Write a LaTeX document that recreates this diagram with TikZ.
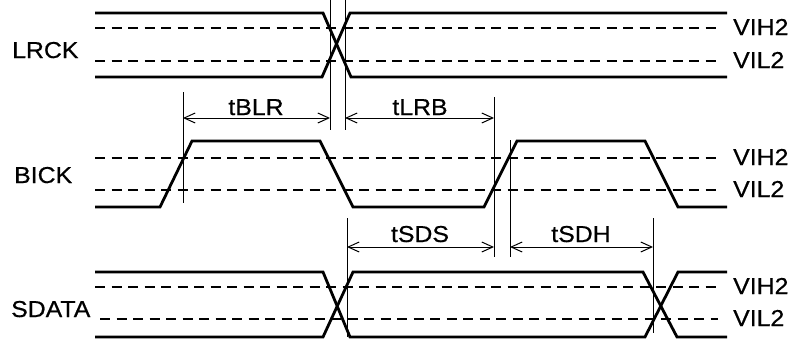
\documentclass[tikz,border=0pt]{standalone}
\usepackage{fontspec}
\setmainfont{Liberation Sans}[FakeStretch=1.08,FakeBold=0.6]
\usetikzlibrary{arrows.meta}

\begin{document}
\begin{tikzpicture}[x=1pt,y=-1pt,
  sig/.style={line width=2.8pt,line join=miter},
  lvl/.style={line width=1.4pt,dash pattern=on 10pt off 6.5pt},
  dim/.style={line width=1pt},
  dimarr/.style={line width=1pt,{Straight Barb[length=11pt,width=10pt]}-{Straight Barb[length=11pt,width=10pt]}},
  lbl/.style={font=\fontsize{23}{25}\selectfont,inner sep=0pt,anchor=base west},
  tlbl/.style={font=\fontsize{23}{25}\selectfont,inner sep=0pt,anchor=base}]
\useasboundingbox (0,0) rectangle (798,340);
% reference points of the timing edges
\path (183,92) coordinate (A1) (183,203) coordinate (A2)
 (330,0) coordinate (C1) (330,130) coordinate (C2)
 (345,0) coordinate (D1) (345,130) coordinate (D2)
 (494,97) coordinate (E1) (494,257) coordinate (E2)
 (510,140) coordinate (F1) (510,257) coordinate (F2)
 (347,218) coordinate (G1) (347,337) coordinate (G2)
 (653,218) coordinate (H1) (653,333) coordinate (H2);
\path (183,118) coordinate (a) (330,118) coordinate (c)
 (345,118) coordinate (d) (494,118) coordinate (e)
 (347,247) coordinate (g) (494,247) coordinate (e2)
 (510,247) coordinate (f) (653,247) coordinate (h);
% LRCK
\draw[sig](95,13)--(323,13)--(351,77)--(727,77);
\draw[sig](95,77)--(322,77)--(350,13)--(727,13);
\draw[lvl](95,28)--(718,28)(95,61)--(718,61);
% BICK
\draw[sig](95,207)--(160,207)--(192,141)--(320,141)--(353,207)--(484,207)
 --(517,141)--(645,141)--(678,207)--(727,207);
\draw[lvl](95,158)--(718,158)(95,190)--(718,190);
% SDATA
\draw[sig](95,272)--(323,272)--(350,337)--(645,337)--(678,272)--(727,272);
\draw[sig](95,337)--(323,337)--(353,272)--(643,272)--(677,337)--(727,337);
\draw[lvl](95,287)--(718,287)(100,319)--(718,319);
% timing lines
\draw[dim](A1)--(A2)(C1)--(C2)(D1)--(D2)(E1)--(E2)(F1)--(F2)(G1)--(G2)(H1)--(H2);
\draw[dimarr](a)--(c);
\draw[dimarr](d)--(e);
\draw[dimarr](g)--(e2);
\draw[dimarr](f)--(h);
% labels
\node[lbl] (lrck) at (12,58) {LRCK};
\node[lbl] (bick) at (14,183) {BICK};
\node[lbl] (sdata) at (11,317) {SDATA};
\foreach \y/\n in {35/1,165/2,294/3}{\node[lbl] (vih\n) at (733,\y) {VIH2};}
\foreach \y/\n in {68/1,197/2,326/3}{\node[lbl] (vil\n) at (733,\y) {VIL2};}
\node[tlbl] (tblr) at (256,115) {tBLR};
\node[tlbl] (tlrb) at (420,115) {tLRB};
\node[tlbl] (tsds) at (420,242) {tSDS};
\node[tlbl] (tsdh) at (581,242) {tSDH};
\end{tikzpicture}
\end{document}
